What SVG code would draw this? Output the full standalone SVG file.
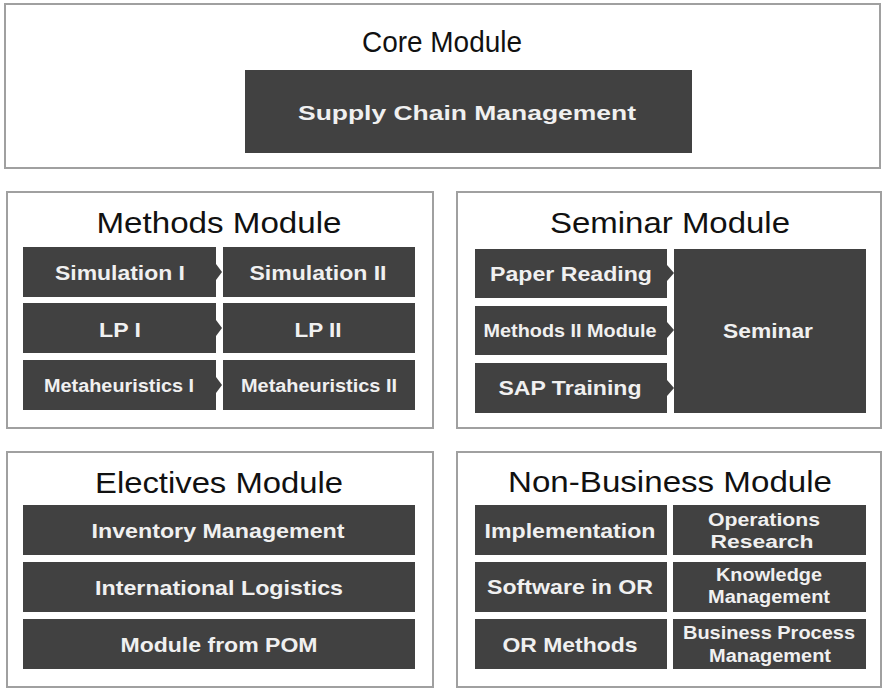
<svg xmlns="http://www.w3.org/2000/svg" width="884" height="688" viewBox="0 0 884 688">
<style>
.frame{fill:#ffffff;stroke:#a0a0a0;stroke-width:2}
.cell{fill:#414141}
.tip{fill:#414141}
.title{font-family:"Liberation Sans",Arial,sans-serif;font-size:30px;fill:#111111;text-anchor:middle}
.lbl{font-family:"Liberation Sans",Arial,sans-serif;font-weight:bold;font-size:21px;fill:#f0f0f0;text-anchor:middle}
.sm{font-size:18px}
</style>
<rect width="884" height="688" fill="#ffffff"/>

<g id="core-module">
<rect class="frame" x="5" y="4" width="875" height="164"/>
<text class="title" x="442" y="52" font-size="29" textLength="160" lengthAdjust="spacingAndGlyphs">Core Module</text>
</g>
<g id="supply-chain-management">
<rect class="cell" x="245" y="70" width="447" height="83"/>
<text class="lbl" x="467" y="120" font-size="23" textLength="338" lengthAdjust="spacingAndGlyphs">Supply Chain Management</text>
</g>

<g id="methods-module">
<rect class="frame" x="7" y="192" width="426" height="236"/>
<text class="title" x="219" y="233" textLength="245" lengthAdjust="spacingAndGlyphs">Methods Module</text>
</g>
<g id="simulation-1"><rect class="cell" x="23" y="247" width="193" height="50"/><text class="lbl" x="120" y="280" textLength="130" lengthAdjust="spacingAndGlyphs">Simulation I</text></g>
<g id="simulation-2"><rect class="cell" x="223" y="247" width="192" height="50"/><text class="lbl" x="318" y="280" textLength="137" lengthAdjust="spacingAndGlyphs">Simulation II</text></g>
<g id="lp-1"><rect class="cell" x="23" y="303" width="193" height="50"/><text class="lbl" x="120" y="337" textLength="42" lengthAdjust="spacingAndGlyphs">LP I</text></g>
<g id="lp-2"><rect class="cell" x="223" y="303" width="192" height="50"/><text class="lbl" x="318" y="337" textLength="47" lengthAdjust="spacingAndGlyphs">LP II</text></g>
<g id="metaheuristics-1"><rect class="cell" x="23" y="360" width="193" height="50"/><text class="lbl sm" x="119" y="392" textLength="150" lengthAdjust="spacingAndGlyphs">Metaheuristics I</text></g>
<g id="metaheuristics-2"><rect class="cell" x="223" y="360" width="192" height="50"/><text class="lbl sm" x="319" y="392" textLength="156" lengthAdjust="spacingAndGlyphs">Metaheuristics II</text></g>

<g id="seminar-module">
<rect class="frame" x="457" y="192" width="424" height="236"/>
<text class="title" x="670" y="233" textLength="240" lengthAdjust="spacingAndGlyphs">Seminar Module</text>
</g>
<g id="paper-reading"><rect class="cell" x="475" y="249" width="192" height="49"/><text class="lbl" x="571" y="281" textLength="162" lengthAdjust="spacingAndGlyphs">Paper Reading</text></g>
<g id="methods-2-module"><rect class="cell" x="475" y="306" width="192" height="49"/><text class="lbl sm" x="570" y="337" textLength="173" lengthAdjust="spacingAndGlyphs">Methods II Module</text></g>
<g id="sap-training"><rect class="cell" x="475" y="363" width="192" height="50"/><text class="lbl" x="570" y="395" textLength="143" lengthAdjust="spacingAndGlyphs">SAP Training</text></g>
<g id="seminar"><rect class="cell" x="674" y="249" width="192" height="164"/><text class="lbl" x="768" y="338" textLength="90" lengthAdjust="spacingAndGlyphs">Seminar</text></g>

<g id="electives-module">
<rect class="frame" x="7" y="452" width="426" height="235"/>
<text class="title" x="219" y="493" textLength="248" lengthAdjust="spacingAndGlyphs">Electives Module</text>
</g>
<g id="inventory-management"><rect class="cell" x="23" y="505" width="392" height="50"/><text class="lbl" x="218" y="538" textLength="253" lengthAdjust="spacingAndGlyphs">Inventory Management</text></g>
<g id="international-logistics"><rect class="cell" x="23" y="562" width="392" height="50"/><text class="lbl" x="219" y="595" textLength="248" lengthAdjust="spacingAndGlyphs">International Logistics</text></g>
<g id="module-from-pom"><rect class="cell" x="23" y="619" width="392" height="50"/><text class="lbl" x="219" y="652" textLength="197" lengthAdjust="spacingAndGlyphs">Module from POM</text></g>

<g id="non-business-module">
<rect class="frame" x="457" y="452" width="424" height="235"/>
<text class="title" x="670" y="492" textLength="324" lengthAdjust="spacingAndGlyphs">Non-Business Module</text>
</g>
<g id="implementation"><rect class="cell" x="475" y="505" width="192" height="50"/><text class="lbl" x="570" y="538" textLength="171" lengthAdjust="spacingAndGlyphs">Implementation</text></g>
<g id="software-in-or"><rect class="cell" x="475" y="562" width="192" height="50"/><text class="lbl" x="570" y="594" textLength="166" lengthAdjust="spacingAndGlyphs">Software in OR</text></g>
<g id="or-methods"><rect class="cell" x="475" y="619" width="192" height="50"/><text class="lbl" x="570" y="652" textLength="135" lengthAdjust="spacingAndGlyphs">OR Methods</text></g>
<g id="operations-research"><rect class="cell" x="673" y="505" width="193" height="50"/><text class="lbl sm" x="764" y="526" textLength="112" lengthAdjust="spacingAndGlyphs">Operations</text><text class="lbl sm" x="762" y="548" textLength="103" lengthAdjust="spacingAndGlyphs">Research</text></g>
<g id="knowledge-management"><rect class="cell" x="673" y="562" width="193" height="50"/><text class="lbl sm" x="769" y="581" textLength="106" lengthAdjust="spacingAndGlyphs">Knowledge</text><text class="lbl sm" x="769" y="603" textLength="122" lengthAdjust="spacingAndGlyphs">Management</text></g>
<g id="business-process-management"><rect class="cell" x="673" y="619" width="193" height="50"/><text class="lbl sm" x="769" y="639" textLength="172" lengthAdjust="spacingAndGlyphs">Business Process</text><text class="lbl sm" x="770" y="662" textLength="122" lengthAdjust="spacingAndGlyphs">Management</text></g>

<g id="connectors">
<polygon class="tip" points="216,264 222,272 216,280"/>
<polygon class="tip" points="216,320 222,328 216,336"/>
<polygon class="tip" points="216,377 222,385 216,393"/>
<polygon class="tip" points="667,265 674,273 667,281"/>
<polygon class="tip" points="667,322 674,330 667,338"/>
<polygon class="tip" points="667,380 674,388 667,396"/>
</g>
</svg>
